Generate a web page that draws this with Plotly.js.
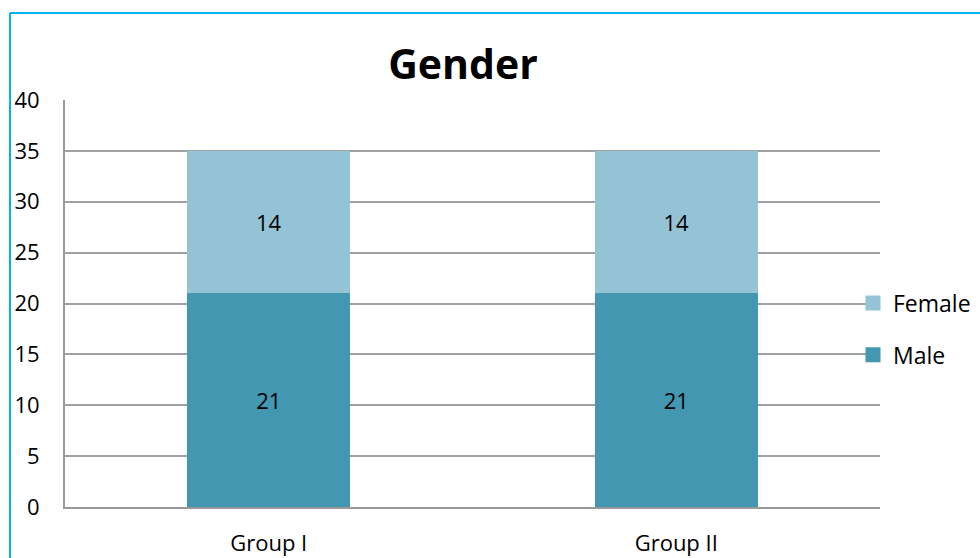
<!DOCTYPE html>
<html>
<head>
<meta charset="utf-8">
<script src="https://cdn.plot.ly/plotly-3.0.1.min.js"></script>
<style>
html,body{margin:0;padding:0;background:#fff;}
#chart{width:980px;height:558px;}
</style>
</head>
<body>
<div id="chart"></div>
<script>
const categories = ["Group I", "Group II"];
const maleValues = [21, 21];
const femaleValues = [14, 14];
const seriesNames = ["Male", "Female"];
const yTickValues = [0, 5, 10, 15, 20, 25, 30, 35, 40];

const W = 980, H = 558;
const mL = 65, mR = 100, mT = 100, mB = 51;
const pw = W - mL - mR, ph = H - mT - mB;
const px = x => (x - mL) / pw;
const py = y => (H - mB - y) / ph;

const font = "'Open Sans', 'Noto Sans', sans-serif";
const maleColor = "#4397B0", femaleColor = "#93C3D5";

const traces = [
  {
    type: "bar", name: seriesNames[0], x: categories, y: maleValues,
    marker: {color: maleColor}, showlegend: false,
    text: maleValues.map(String), textposition: "inside", insidetextanchor: "middle",
    textfont: {family: font, size: 22, color: "#000"},
    hoverinfo: "none"
  },
  {
    type: "bar", name: seriesNames[1], x: categories, y: femaleValues,
    marker: {color: femaleColor}, showlegend: false,
    text: femaleValues.map(String), textposition: "inside", insidetextanchor: "middle",
    textfont: {family: font, size: 22, color: "#000"},
    hoverinfo: "none"
  },
  // legend-only entries (square swatches), Female listed first as in the reference
  {
    type: "scatter", mode: "markers", name: seriesNames[1], x: [null], y: [null],
    legendgroup: "f", marker: {symbol: "square", size: 15, color: femaleColor}, hoverinfo: "none"
  },
  {
    type: "scatter", mode: "markers", name: seriesNames[0], x: [null], y: [null],
    legendgroup: "m", marker: {symbol: "square", size: 15, color: maleColor}, hoverinfo: "none"
  }
];

const layout = {
  width: W, height: H,
  margin: {l: mL, r: mR, t: mT, b: mB, pad: 0, autoexpand: false},
  paper_bgcolor: "#fff", plot_bgcolor: "#fff",
  barmode: "stack", bargap: 0.6,
  font: {family: font, size: 22, color: "#000"},
  title: {text: "<b>Gender</b>", font: {family: font, size: 41, color: "#000"},
          x: 463 / W, xanchor: "center", y: 1 - 65 / H, yanchor: "middle"},
  xaxis: {
    showgrid: false, showline: true, linecolor: "#999", linewidth: 2,
    ticks: "", tickfont: {family: font, size: 22}, ticklabelstandoff: 16,
    fixedrange: true, automargin: false
  },
  yaxis: {
    range: [0, 40], tickvals: yTickValues, showgrid: true, gridcolor: "#A0A0A0", gridwidth: 2,
    showline: true, linecolor: "#999", linewidth: 2, zeroline: false,
    ticks: "", tickfont: {family: font, size: 22}, ticklabelstandoff: 19,
    fixedrange: true, automargin: false
  },
  legend: {
    x: px(853), xanchor: "left", y: py(329), yanchor: "middle",
    traceorder: "grouped", bgcolor: "rgba(0,0,0,0)",
    font: {family: font, size: 23}, itemwidth: 30, tracegroupgap: 19
  },
  shapes: [
    {type: "line", xref: "paper", yref: "paper", x0: px(10), x1: px(W + 5), y0: py(13), y1: py(13),
     line: {color: "#00B0F0", width: 2}},
    {type: "line", xref: "paper", yref: "paper", x0: px(10), x1: px(10), y0: py(13), y1: py(H + 5),
     line: {color: "#00B0F0", width: 2}}
  ],
  showlegend: true
};

Plotly.newPlot("chart", traces, layout, {displayModeBar: false, staticPlot: true});
</script>
</body>
</html>
